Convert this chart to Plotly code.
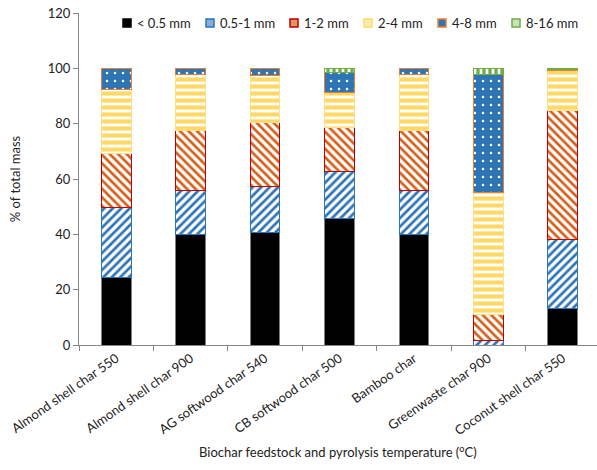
import plotly.graph_objects as go

categories = ["Almond shell char 550", "Almond shell char 900", "AG softwood char 540",
              "CB softwood char 500", "Bamboo char", "Greenwaste char 900", "Coconut shell char 550"]
size_classes = ["< 0.5 mm", "0.5-1 mm", "1-2 mm", "2-4 mm", "4-8 mm", "8-16 mm"]

lt_0_5 = [24.3, 40.0, 40.6, 45.8, 40.0, 0.0, 13.1]
s0_5_1 = [25.3, 16.0, 16.6, 16.8, 16.0, 1.8, 25.1]
s1_2 = [19.7, 21.7, 23.2, 16.0, 21.7, 9.4, 46.4]
s2_4 = [22.9, 19.9, 17.0, 12.6, 19.9, 44.0, 14.6]
s4_8 = [7.8, 2.4, 2.6, 7.3, 2.4, 42.4, 0.4]
s8_16 = [0.0, 0.0, 0.0, 1.5, 0.0, 2.4, 0.4]

series = [lt_0_5, s0_5_1, s1_2, s2_4, s4_8, s8_16]

styles = [
    dict(color="#000000", line=dict(color="#7f7f7f", width=1)),
    dict(color="#ffffff", line=dict(color="#2E75B6", width=1),
         pattern=dict(shape="/", fgcolor="#2E75B6", bgcolor="#ffffff", fgopacity=1, size=6, solidity=0.45)),
    dict(color="#ffffff", line=dict(color="#C00000", width=1),
         pattern=dict(shape="\\", fgcolor="#D2601A", bgcolor="#ffffff", fgopacity=1, size=6, solidity=0.45)),
    dict(color="#ffffff", line=dict(color="#FFE08A", width=1),
         pattern=dict(shape="-", fgcolor="#FFD966", bgcolor="#ffffff", fgopacity=1, size=7, solidity=0.6)),
    dict(color="#2E75B6", line=dict(color="#ED7D31", width=1),
         pattern=dict(shape=".", fgcolor="#ffffff", bgcolor="#2E75B6", fgopacity=1, size=8, solidity=0.08)),
    dict(color="#ffffff", line=dict(color="#70AD47", width=1),
         pattern=dict(shape="|", fgcolor="#70AD47", bgcolor="#ffffff", fgopacity=1, size=6, solidity=0.55)),
]
# compact legend swatch colours (approximate blended look of each pattern)
swatch_fill = ["#000000", "#86AEDA", "#E3925E", "#FFEBB0", "#2E75B6", "#C9E2B8"]
swatch_line = ["#000000", "#2E75B6", "#C00000", "#FFD966", "#ED7D31", "#70AD47"]

fig = go.Figure()
for name, vals, st in zip(size_classes, series, styles):
    fig.add_trace(go.Bar(x=categories, y=[v if v > 0 else None for v in vals],
                         name=name, marker=st, showlegend=False))

# plot-area geometry (pixels) used to place a compact one-line legend
L, R, T, B = 79, 597, 13, 345
legend_px_x = [123, 206, 290, 364, 438, 512]
legend_px_y = 23
for i, name in enumerate(size_classes):
    x0 = (legend_px_x[i] - L) / (R - L)
    x1 = (legend_px_x[i] + 8 - L) / (R - L)
    y0 = (B - (legend_px_y + 4)) / (B - T)
    y1 = (B - (legend_px_y - 4)) / (B - T)
    fig.add_shape(type="rect", xref="paper", yref="paper", x0=x0, x1=x1, y0=y0, y1=y1,
                  fillcolor=swatch_fill[i], line=dict(color=swatch_line[i], width=1.5))
    fig.add_annotation(xref="paper", yref="paper", x=(legend_px_x[i] + 12 - L) / (R - L),
                       y=(B - legend_px_y) / (B - T), text=name, showarrow=False,
                       xanchor="left", yanchor="middle", font=dict(size=13, color="#222222"))

# x-axis title
fig.add_annotation(xref="paper", yref="paper", x=(338 - L) / (R - L), y=(B - 451) / (B - T),
                   text="Biochar feedstock and pyrolysis temperature (<sup>o</sup>C)",
                   showarrow=False, xanchor="center", yanchor="middle",
                   font=dict(size=13, color="#222222"))

font_family = "Lato, 'Open Sans', sans-serif"
fig.update_layout(
    barmode="stack",
    bargap=0.6,
    width=597, height=470,
    margin=dict(l=L, r=0, t=T, b=470 - B),
    plot_bgcolor="white", paper_bgcolor="white",
    font=dict(family=font_family, size=13, color="#222222"),
    showlegend=False,
    xaxis=dict(range=[-0.5, 6.46], showline=True, linecolor="#868686", linewidth=1,
               ticks="outside", tickson="boundaries", ticklen=5, tickcolor="#868686",
               tickangle=-35, tickfont=dict(size=13), automargin=False),
    yaxis=dict(range=[0, 120], dtick=20, showline=True, linecolor="#868686", linewidth=1,
               ticks="outside", ticklen=5, tickcolor="#868686", showgrid=False, zeroline=False,
               tickfont=dict(size=13), automargin=False,
               title=dict(text="% of total mass", font=dict(size=13), standoff=24)),
)

fig.write_html("out.html", config={"displayModeBar": False},
               post_script="document.body.style.margin='0';")
